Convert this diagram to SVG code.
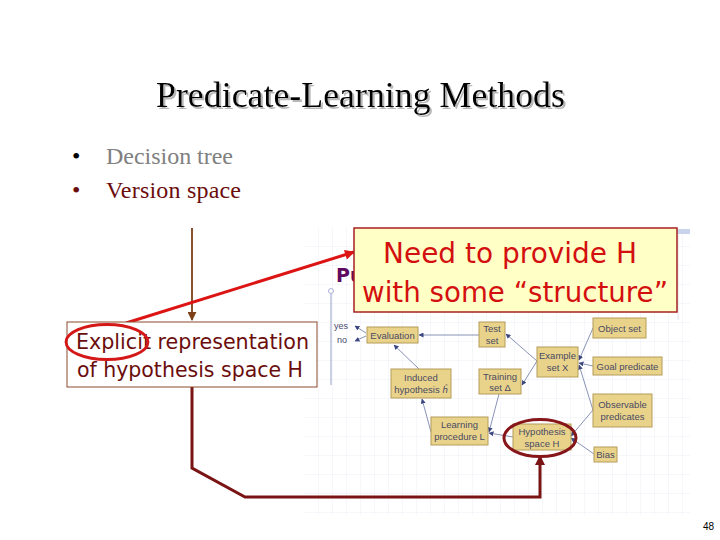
<svg xmlns="http://www.w3.org/2000/svg" width="720" height="540" viewBox="0 0 720 540">
<defs>
<style>
.title{font-family:"Liberation Serif",serif;font-size:35px;fill:#000}
.bul{font-family:"Liberation Serif",serif;font-size:24px}
.callout{font-family:"DejaVu Sans",sans-serif;font-size:28px;fill:#d40f0f}
.expl{font-family:"DejaVu Sans",sans-serif;font-size:21px;fill:#6b0d0d}
.node rect{fill:#e9d38b;stroke:#b49c58;stroke-width:1}
.node text{font-family:"Liberation Sans",sans-serif;font-size:9.5px;fill:#4a4a62;text-anchor:middle}
.edge{fill:none;stroke:#7a86ae;stroke-width:0.9;marker-end:url(#sa)}
.lbl{font-family:"Liberation Sans",sans-serif;font-size:9px;fill:#4a4a70}
</style>
<filter id="shadow" x="-5%" y="-20%" width="110%" height="140%">
<feDropShadow dx="2" dy="2" stdDeviation="0.6" flood-color="#b0b0b0" flood-opacity="0.9"/>
</filter>
<pattern id="grid" width="14" height="19" patternUnits="userSpaceOnUse" x="305" y="228">
<path d="M14 0V19M0 19H14" fill="none" stroke="#e7eaf3" stroke-width="0.8"/>
</pattern>
<marker id="sa" viewBox="0 0 10 10" refX="9" refY="5" markerWidth="5" markerHeight="5" orient="auto" markerUnits="userSpaceOnUse"><path d="M0 0L10 5L0 10z" fill="#3c4680"/></marker>
<marker id="brownA" viewBox="0 0 10 10" refX="9" refY="5" markerWidth="9" markerHeight="9" orient="auto" markerUnits="userSpaceOnUse"><path d="M0 0L10 5L0 10z" fill="#7e4016"/></marker>
<marker id="redA" viewBox="0 0 10 10" refX="9" refY="5" markerWidth="12" markerHeight="10" orient="auto" markerUnits="userSpaceOnUse"><path d="M0 0L10 5L0 10z" fill="#dd1414"/></marker>
<marker id="drA" viewBox="0 0 10 10" refX="9" refY="5" markerWidth="12" markerHeight="10" orient="auto" markerUnits="userSpaceOnUse"><path d="M0 0L10 5L0 10z" fill="#7a1414"/></marker>
</defs>
<rect width="720" height="540" fill="#fff"/>

<!-- embedded figure background -->
<rect x="305" y="228" width="385" height="287" fill="url(#grid)"/>
<rect x="677" y="229" width="13" height="5" fill="#c9d4ec"/>
<line x1="678" y1="235" x2="678" y2="320" stroke="#dde2ee" stroke-width="1"/>
<line x1="331" y1="294" x2="331" y2="385" stroke="#a9b0d4" stroke-width="1.2"/>
<circle cx="331" cy="291" r="2.5" fill="none" stroke="#a9b0d4" stroke-width="1"/>
<text x="336" y="282" font-family="DejaVu Sans,sans-serif" font-weight="bold" font-size="19" fill="#5e0a5e">Pu</text>

<!-- title and bullets -->
<text class="title" x="156" y="107" textLength="409" lengthAdjust="spacingAndGlyphs" filter="url(#shadow)">Predicate-Learning Methods</text>
<text class="bul" x="72" y="164" fill="#000">•</text>
<text class="bul" x="106" y="164" fill="#808080" textLength="127">Decision tree</text>
<text class="bul" x="72" y="198" fill="#6b0d0d">•</text>
<text class="bul" x="106" y="198" fill="#6b0d0d" textLength="135">Version space</text>

<!-- connectors -->
<g id="connectors">
<line x1="192" y1="228" x2="192" y2="320" stroke="#7e4016" stroke-width="1.8" marker-end="url(#brownA)"/>
<path d="M192 387V468L245 497H540V456" fill="none" stroke="#7a1414" stroke-width="3" stroke-linejoin="miter" marker-end="url(#drA)"/>
<line x1="126" y1="323" x2="354" y2="252" stroke="#dd1414" stroke-width="3" marker-end="url(#redA)"/>
<path class="edge" d="M479 335H419"/>
<path class="edge" d="M366 333L355 326"/>
<path class="edge" d="M366 336L355 341"/>
<path class="edge" d="M537 361L506 334"/>
<path class="edge" d="M537 361L522 385"/>
<path class="edge" d="M593 328L579 360"/>
<path class="edge" d="M593 366L579 363"/>
<path class="edge" d="M593 410L579 365"/>
<path class="edge" d="M593 410L571 436"/>
<path class="edge" d="M594 454L571 438"/>
<path class="edge" d="M499 394L489 432"/>
<path class="edge" d="M513 437L489 433"/>
<path class="edge" d="M431 432L422 399"/>
<path class="edge" d="M419 369L394 345"/>
</g>

<text class="lbl" x="334" y="329">yes</text>
<text class="lbl" x="337" y="343">no</text>

<!-- diagram nodes -->
<g id="n-evaluation" class="node"><rect x="367" y="327" width="51" height="16"/><text x="392.5" y="339">Evaluation</text></g>
<g id="n-testset" class="node"><rect x="479" y="322" width="26" height="25"/><text x="492" y="332">Test</text><text x="492" y="344">set</text></g>
<g id="n-example" class="node"><rect x="537" y="347" width="41" height="30"/><text x="557.5" y="359">Example</text><text x="557.5" y="371">set X</text></g>
<g id="n-object" class="node"><rect x="593" y="318" width="53" height="20"/><text x="619.5" y="332">Object set</text></g>
<g id="n-goal" class="node"><rect x="593" y="357" width="69" height="18"/><text x="627.5" y="370">Goal predicate</text></g>
<g id="n-training" class="node"><rect x="479" y="369" width="42" height="25"/><text x="500" y="380">Training</text><text x="500" y="391">set Δ</text></g>
<g id="n-induced" class="node"><rect x="391" y="369" width="60" height="29"/><text x="421" y="381">Induced</text><text x="421" y="393">hypothesis <tspan font-style="italic">ĥ</tspan></text></g>
<g id="n-observable" class="node"><rect x="593" y="394" width="59" height="33"/><text x="622.5" y="408">Observable</text><text x="622.5" y="420">predicates</text></g>
<g id="n-learning" class="node"><rect x="431" y="417" width="57" height="28"/><text x="459.5" y="428">Learning</text><text x="459.5" y="440">procedure L</text></g>
<g id="n-hypspace" class="node"><rect x="513" y="424" width="58" height="26"/><text x="542" y="435">Hypothesis</text><text x="542" y="447">space H</text></g>
<g id="n-bias" class="node"><rect x="594" y="447" width="23" height="15"/><text x="605.5" y="458">Bias</text></g>

<!-- highlight ellipses -->
<ellipse cx="540" cy="438" rx="36" ry="18.5" fill="none" stroke="#86161a" stroke-width="3"/>

<!-- explicit representation box -->
<g id="n-explicit">
<rect x="67" y="322" width="250" height="65" fill="#fff" stroke="#8a4a2a" stroke-width="1"/>
<text class="expl" x="76" y="349" textLength="233" lengthAdjust="spacingAndGlyphs">Explicit representation</text>
<text class="expl" x="77" y="377" textLength="226" lengthAdjust="spacingAndGlyphs">of hypothesis space H</text>
<ellipse cx="107" cy="342" rx="41" ry="17.5" fill="none" stroke="#d41818" stroke-width="2.8"/>
</g>

<!-- callout -->
<g id="n-callout">
<rect x="354" y="228" width="323" height="84" fill="#ffffc6" stroke="#a82020" stroke-width="1.5"/>
<text class="callout" x="383" y="263" textLength="254" lengthAdjust="spacingAndGlyphs">Need to provide H</text>
<text class="callout" x="362" y="302" textLength="306" lengthAdjust="spacingAndGlyphs">with some “structure”</text>
</g>

<text x="703" y="530" font-family="Liberation Sans,sans-serif" font-size="10" fill="#000">48</text>
</svg>
